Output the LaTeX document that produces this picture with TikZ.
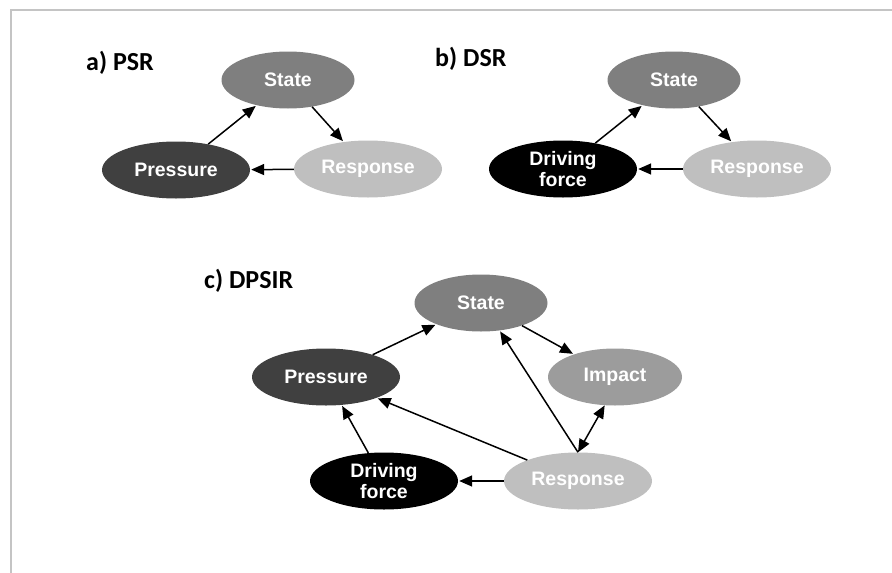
\documentclass[tikz,border=0pt]{standalone}
\usepackage{fontspec}
\setmainfont{Liberation Sans}
\newfontfamily\labelfont{Carlito}
\usetikzlibrary{shapes.geometric,arrows.meta}
\definecolor{stategray}{HTML}{7F7F7F}
\definecolor{pressgray}{HTML}{404040}
\definecolor{respgray}{HTML}{BFBFBF}
\definecolor{impgray}{HTML}{9C9C9C}
\definecolor{framegray}{HTML}{C4C4C4}
\begin{document}
\begin{tikzpicture}[x=1pt,y=-1pt,
  elbox/.style={ellipse,inner sep=0pt,minimum width=148pt,minimum height=57pt,
    text=white,font=\fontsize{19.5}{21}\selectfont\bfseries,align=center},
  statebox/.style={elbox,fill=stategray,minimum width=133pt},
  pressbox/.style={elbox,fill=pressgray},
  respbox/.style={elbox,fill=respgray},
  impbox/.style={elbox,fill=impgray,minimum width=134pt},
  dfbox/.style={elbox,fill=black},
  conn/.style={line width=1.5pt,-{Triangle[length=13pt,width=11pt]},shorten >=1pt},
  dconn/.style={line width=1.5pt,{Triangle[length=13pt,width=11pt]}-{Triangle[length=13pt,width=11pt]}},
  paneltitle/.style={font=\labelfont\fontsize{26}{28}\selectfont\bfseries,anchor=west,inner sep=0pt}]
\useasboundingbox (0,0) rectangle (892,573);
\draw[framegray,line width=2pt] (892,10) -- (11,10) -- (11,573);
% a) PSR
\node[paneltitle] (ta) at (86,63) {a) PSR};
\node[statebox] (Sa) at (288,80) {State};
\node[pressbox] (Pa) at (176,170) {Pressure};
\node[respbox] (Ra) at (368,169) {Response};
\draw[conn] (Pa) -- (Sa);
\draw[conn] (Sa) -- (Ra);
\draw[conn] (Ra) -- (Pa);
% b) DSR
\node[paneltitle] (tb) at (435,59) {b) DSR};
\node[statebox] (Sb) at (674,80) {State};
\node[dfbox] (Db) at (563,169) {Driving\\force};
\node[respbox] (Rb) at (757,169) {Response};
\draw[conn] (Db) -- (Sb);
\draw[conn] (Sb) -- (Rb);
\draw[conn] (Rb) -- (Db);
% c) DPSIR
\node[paneltitle] (tc) at (204,281) {c) DPSIR};
\node[statebox] (Sc) at (481,303) {State};
\node[pressbox] (Pc) at (326,377) {Pressure};
\node[impbox] (Ic) at (615,377) {Impact};
\node[dfbox] (Dc) at (384,481) {Driving\\force};
\node[respbox] (Rc) at (578,481) {Response};
\draw[conn] (Pc) -- (Sc);
\draw[conn] (Sc) -- (Ic);
\draw[conn] (Rc.north) -- (Sc.-56);
\draw[dconn] (Rc.north) -- (Ic.-110);
\draw[conn] (Rc) -- (Pc);
\draw[conn] (Dc) -- (Pc);
\draw[conn] (Rc) -- (Dc);
\end{tikzpicture}
\end{document}
